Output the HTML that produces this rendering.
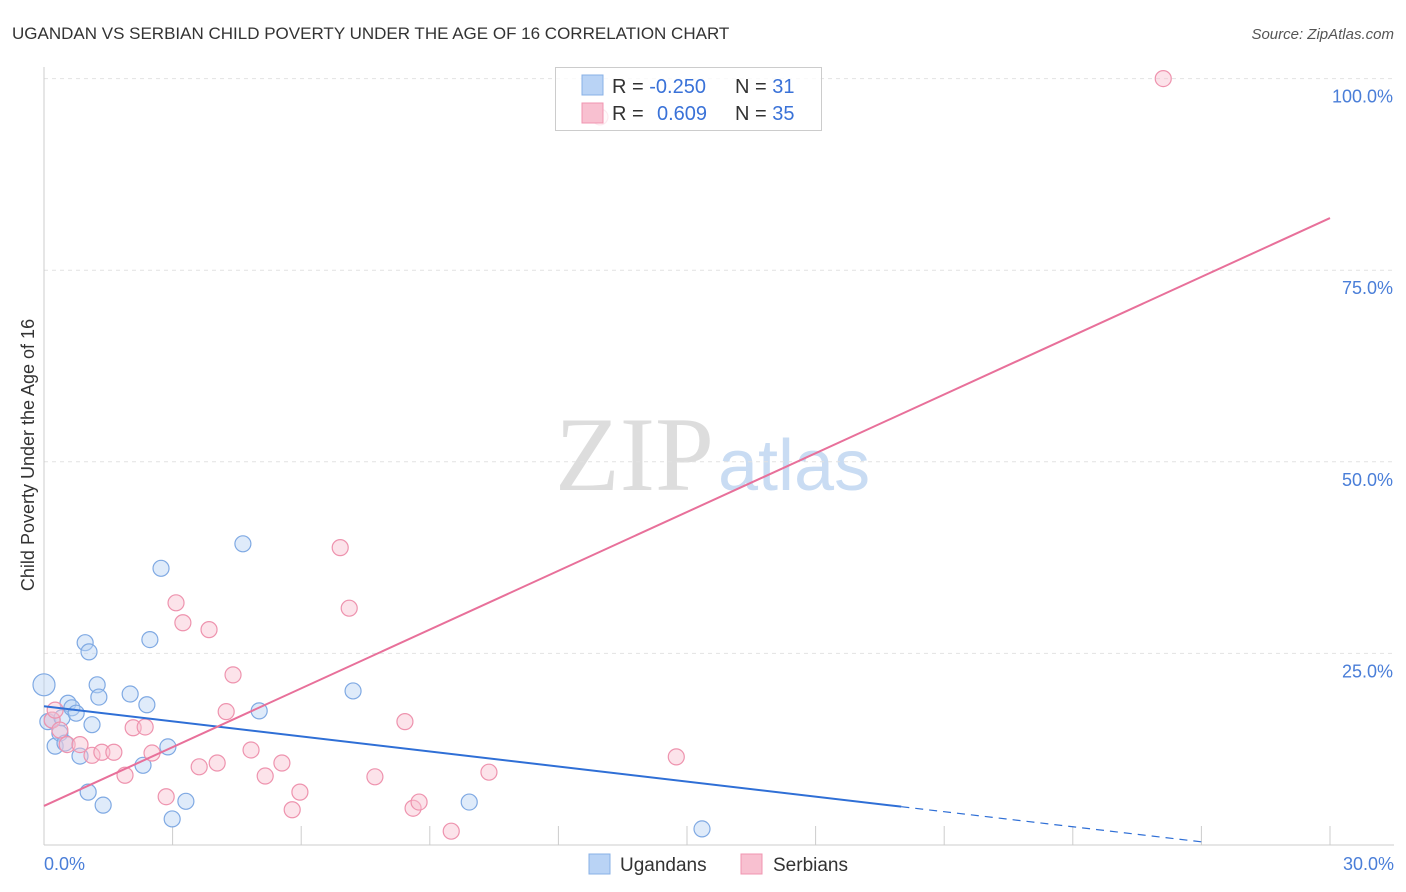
<!DOCTYPE html>
<html><head><meta charset="utf-8"><style>
body{margin:0;background:#fff;font-family:"Liberation Sans",sans-serif}
svg{display:block}
</style></head><body>
<svg id="c" width="1406" height="892">
<text x="12" y="39" font-size="17" fill="#333">UGANDAN VS SERBIAN CHILD POVERTY UNDER THE AGE OF 16 CORRELATION CHART</text>
<text x="1394" y="39" font-size="15" fill="#555" font-style="italic" text-anchor="end">Source: ZipAtlas.com</text>
<text x="714" y="490" font-size="106" fill="#ddd" font-family="Liberation Serif,serif" text-anchor="end">ZIP</text>
<text x="718" y="490" font-size="72" fill="#c9dcf3">atlas</text>
<text transform="translate(34,455) rotate(-90)" font-size="18" fill="#333" text-anchor="middle">Child Poverty Under the Age of 16</text>
<g id="grid"></g><g id="marks"></g>
<g>
<rect x="555.5" y="67.5" width="266" height="63" fill="#fff" fill-opacity="0.8" stroke="#ccc"/>
<rect x="582" y="75" width="21" height="20" fill="#b9d3f5" stroke="#88b0e6"/>
<rect x="582" y="103" width="21" height="20" fill="#f8c0d0" stroke="#f095b0"/>
<text x="612" y="93" font-size="20" fill="#333">R = <tspan fill="#3a72d8">-0.250</tspan></text>
<text x="735" y="93" font-size="20" fill="#333">N = <tspan fill="#3a72d8"> 31</tspan></text>
<text x="612" y="120" font-size="20" fill="#333">R = <tspan fill="#3a72d8" x="657">0.609</tspan></text>
<text x="735" y="120" font-size="20" fill="#333">N = <tspan fill="#3a72d8">35</tspan></text>
</g>
<g>
<rect x="589" y="854" width="21" height="20" fill="#b9d3f5" stroke="#88b0e6"/>
<text x="620" y="871" font-size="19" fill="#333">Ugandans</text>
<rect x="741" y="854" width="21" height="20" fill="#f8c0d0" stroke="#f095b0"/>
<text x="773" y="871" font-size="19" fill="#333">Serbians</text>
</g>
</svg>
<script>
const blueX=[0,0.09,0.19,0.26,0.37,0.42,0.49,0.56,0.65,0.75,0.84,0.96,1.05,1.03,1.12,1.24,1.28,1.38,2.01,2.31,2.40,2.47,2.73,2.89,2.99,3.31,4.64,5.02,7.21,9.92,15.35];
const blueY=[20.9,16.1,16.3,12.9,14.6,16.6,13.3,18.5,17.9,17.2,11.6,26.4,25.2,6.9,15.7,20.9,19.3,5.2,19.7,10.4,18.3,26.8,36.1,12.8,3.4,5.7,39.3,17.5,20.1,5.6,2.1];
const pinkX=[26.11,12.97,0.19,0.26,0.37,0.54,0.84,1.12,1.35,1.63,1.89,2.08,2.36,2.52,2.85,3.08,3.24,3.62,3.85,4.04,4.25,4.41,4.83,5.16,5.55,5.79,5.97,6.91,7.12,7.72,8.42,8.61,8.75,9.50,10.38,14.75];
const pinkY=[100,95.0,16.3,17.6,15.0,13.1,13.1,11.7,12.1,12.1,9.1,15.3,15.4,12.0,6.3,31.6,29.0,10.2,28.1,10.7,17.4,22.2,12.4,9.0,10.7,4.6,6.9,38.8,30.9,8.9,16.1,4.8,5.6,1.8,9.5,11.5];
const blueLine=[18.1,5.0];
const pinkLine=[5.1,81.8];
const yTicks=[25,50,75,100];
const NS="http://www.w3.org/2000/svg";
const X=v=>44+v/30*1286, Y=v=>845-v/100*766.4;
function mk(p,t,a){const e=document.createElementNS(NS,t);for(const k in a)e.setAttribute(k,a[k]);p.appendChild(e);return e;}
const g=document.getElementById('grid'), m=document.getElementById('marks');
yTicks.forEach(t=>{
 const l=mk(g,'line',{x1:44,x2:1394,y1:Y(t),y2:Y(t),stroke:'#e2e2e2','stroke-dasharray':'4,4'});
 
 
 const tx=mk(g,'text',{x:1393,y:Y(t)+24,'font-size':18,fill:'#4a7ed8','text-anchor':'end'});tx.textContent=t.toFixed(1)+'%';
 
 
});
mk(g,'line',{x1:44,x2:44,y1:67,y2:845,stroke:'#ccc'});
mk(g,'line',{x1:44,x2:1394,y1:845,y2:845,stroke:'#ccc'});
for(let i=1;i<=10;i++){mk(g,'line',{x1:X(i*3),x2:X(i*3),y1:826,y2:845,stroke:'#ccc'});}
let t0=mk(g,'text',{x:44,y:870,'font-size':18,fill:'#4a7ed8'});t0.textContent='0.0%';

let t1=mk(g,'text',{x:1394,y:870,'font-size':18,fill:'#4a7ed8','text-anchor':'end'});t1.textContent='30.0%';

function dots(xs,ys,f,s,name){xs.forEach((x,i)=>{
 const c=mk(m,'circle',{cx:X(x),cy:Y(ys[i]),r:i===0&&name==='ugandan-point'?11:8,fill:f,'fill-opacity':0.45,stroke:s,'stroke-width':1.2});
 
 
});}
dots(blueX,blueY,'#b9d3f5','#7fa9e3','ugandan-point');
dots(pinkX,pinkY,'#f8c0d0','#ee93ae','serbian-point');
const bs=(blueLine[1]-blueLine[0])/20;
const bl=mk(m,'line',{x1:X(0),y1:Y(blueLine[0]),x2:X(20),y2:Y(blueLine[1]),stroke:'#2f6fd6','stroke-width':2});


const bd=mk(m,'line',{x1:X(20),y1:Y(blueLine[1]),x2:X(27),y2:Y(blueLine[0]+bs*27),stroke:'#2f6fd6','stroke-width':1.2,'stroke-dasharray':'8,6'});


const pl=mk(m,'line',{x1:X(0),y1:Y(pinkLine[0]),x2:X(30),y2:Y(pinkLine[1]),stroke:'#e8709a','stroke-width':2});


</script>
</body></html>
